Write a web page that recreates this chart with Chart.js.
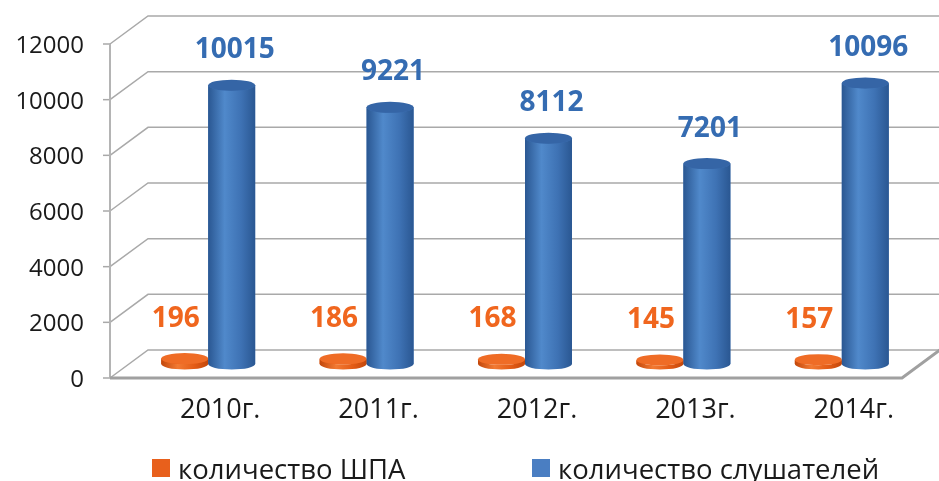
<!DOCTYPE html>
<html>
<head>
<meta charset="utf-8">
<script src="https://cdn.jsdelivr.net/npm/chart.js@4.4.1/dist/chart.umd.min.js"></script>
<style>
    html, body { margin: 0; padding: 0; background: #fff; }
    #wrap { position: relative; width: 939px; height: 481px; }
    #legend { position: absolute; left: 0; top: 452px; width: 939px; height: 32px; font: 27.5px 'Open Sans', sans-serif; color: #1a1a1a; }
    .legend-item { position: absolute; top: 0; display: flex; align-items: center; height: 32px; white-space: nowrap; }
    .legend-box { width: 18px; height: 18px; margin-right: 8px; }
</style>
</head>
<body>
<div id="wrap">
    <canvas id="chart" width="939" height="481"></canvas>
    <div id="legend"></div>
</div>
<script>
const years = ['2010г.', '2011г.', '2012г.', '2013г.', '2014г.'];
const shpaCounts = [196, 186, 168, 145, 157];
const listenerCounts = [10015, 9221, 8112, 7201, 10096];
const yTicks = [0, 2000, 4000, 6000, 8000, 10000, 12000];
const seriesNames = ['количество ШПА', 'количество слушателей'];

// depth offset of the fake 3d box (front plane = -DX,+DY, back wall = +DX,-DY)
const DX = 19;
const DY = 14;

const palette = [
    { legend: '#e8601c', text: '#f0661e', dark: '#c2470b', light: '#f27a33', mid: '#e45c16', top: '#ef6c26', labelDx: -9, labelDy: 40 },
    { legend: '#4a7ec2', text: '#356cb2', dark: '#2a5792', light: '#5089cb', mid: '#3e72b4', top: '#3565a6', labelDx: 3, labelDy: 35 },
];

const wallPlugin = {
    id: 'wall3d',
    beforeDatasetsDraw(chart) {
        const { ctx, chartArea: a, scales: { y } } = chart;
        const y0 = y.getPixelForValue(0);
        const yTop = y.getPixelForValue(y.max);

        ctx.save();
        ctx.strokeStyle = '#a9a9a9';
        ctx.lineWidth = 1.5;

        y.ticks.forEach((t) => {
            const py = y.getPixelForValue(t.value);
            ctx.beginPath();
            ctx.moveTo(a.left - DX, py + DY);
            ctx.lineTo(a.left + DX, py - DY);
            ctx.lineTo(a.right + DX, py - DY);
            ctx.stroke();

            // tick marks on the front axis
            ctx.beginPath();
            ctx.moveTo(a.left - DX - 7, py + DY);
            ctx.lineTo(a.left - DX, py + DY);
            ctx.stroke();
        });

        // front axis line
        ctx.strokeStyle = '#b4b4b4';
        ctx.lineWidth = 2;
        ctx.beginPath();
        ctx.moveTo(a.left - DX, yTop + DY);
        ctx.lineTo(a.left - DX, y0 + DY);
        ctx.stroke();

        // floor edge
        ctx.strokeStyle = '#a0a0a0';
        ctx.lineWidth = 3;
        ctx.beginPath();
        ctx.moveTo(a.left - DX, y0 + DY);
        ctx.lineTo(a.right - DX, y0 + DY);
        ctx.lineTo(a.right + DX, y0 - DY);
        ctx.stroke();

        ctx.restore();
    },
};

const cylinderPlugin = {
    id: 'cylinders',
    afterDatasetsDraw(chart) {
        const ctx = chart.ctx;

        chart.data.datasets.forEach((ds, di) => {
            const colors = palette[di];
            const meta = chart.getDatasetMeta(di);

            meta.data.forEach((bar) => {
                const { x, y, base, width } = bar.getProps(['x', 'y', 'base', 'width'], true);
                const rx = width / 2;
                const ry = 5.5;

                const grad = ctx.createLinearGradient(x - rx, 0, x + rx, 0);
                grad.addColorStop(0, colors.dark);
                grad.addColorStop(0.35, colors.light);
                grad.addColorStop(0.7, colors.mid);
                grad.addColorStop(1, colors.dark);

                ctx.save();
                ctx.fillStyle = grad;
                ctx.beginPath();
                ctx.moveTo(x - rx, y);
                ctx.lineTo(x - rx, base);
                ctx.ellipse(x, base, rx, ry, 0, Math.PI, 0, true);
                ctx.lineTo(x + rx, y);
                ctx.ellipse(x, y, rx, ry, 0, 0, Math.PI, false);
                ctx.closePath();
                ctx.fill();

                ctx.fillStyle = colors.top;
                ctx.beginPath();
                ctx.ellipse(x, y, rx, ry, 0, 0, Math.PI * 2);
                ctx.fill();
                ctx.restore();
            });
        });

        // value labels
        ctx.save();
        ctx.font = 'bold 28px "Open Sans", sans-serif';
        ctx.textAlign = 'center';
        ctx.textBaseline = 'middle';
        chart.data.datasets.forEach((ds, di) => {
            const colors = palette[di];
            chart.getDatasetMeta(di).data.forEach((bar, i) => {
                ctx.fillStyle = colors.text;
                ctx.fillText(String(ds.data[i]), bar.x + colors.labelDx, bar.y - colors.labelDy);
            });
        });
        ctx.restore();
    },
};

const tickFont = { family: '"Open Sans", sans-serif', size: 24 };

const chart = new Chart(document.getElementById('chart'), {
    type: 'bar',
    data: {
        labels: years,
        datasets: [
            { label: seriesNames[0], data: shpaCounts, backgroundColor: palette[0].mid, borderWidth: 0 },
            { label: seriesNames[1], data: listenerCounts, backgroundColor: palette[1].mid, borderWidth: 0 },
        ],
    },
    options: {
        responsive: false,
        animation: false,
        categoryPercentage: 0.593,
        barPercentage: 1,
        layout: {
            padding: { left: 0, top: 30, right: 18, bottom: 47 },
        },
        plugins: {
            legend: { display: false },
            tooltip: { enabled: false },
        },
        scales: {
            x: {
                grid: { display: false, drawTicks: false },
                border: { display: false },
                ticks: {
                    font: { family: '"Open Sans", sans-serif', size: 27 },
                    color: '#1a1a1a',
                    padding: 30,
                    labelOffset: 12,
                },
                afterFit: (scale) => { scale.height = 70; },
            },
            y: {
                min: 0,
                max: 12000,
                grid: { display: false, drawTicks: false },
                border: { display: false },
                afterBuildTicks: (scale) => { scale.ticks = yTicks.map((v) => ({ value: v })); },
                ticks: {
                    font: tickFont,
                    color: '#1a1a1a',
                    padding: 45,
                    labelOffset: 16,
                    callback: (v) => String(v),
                },
                afterFit: (scale) => {
                    scale.width = 129;
                    scale.paddingTop = 0;
                    scale.paddingBottom = 0;
                },
            },
        },
    },
    plugins: [wallPlugin, cylinderPlugin],
});

// html legend from the datasets
const legendEl = document.getElementById('legend');
const legendLefts = [152, 532];
chart.data.datasets.forEach((ds, i) => {
    const item = document.createElement('div');
    item.className = 'legend-item';
    item.style.left = legendLefts[i] + 'px';
    item.innerHTML = `<span class="legend-box" style="background:${palette[i].legend}"></span><span>${ds.label}</span>`;
    legendEl.appendChild(item);
});
</script>
</body>
</html>
